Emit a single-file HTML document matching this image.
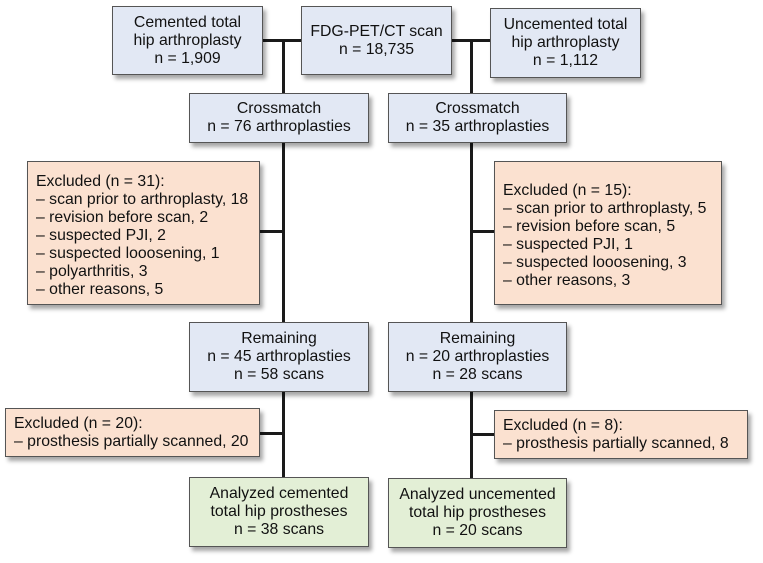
<!DOCTYPE html>
<html><head><style>
body{margin:0;width:763px;height:563px;background:#fff;position:relative;font-family:"Liberation Sans",Arial,sans-serif;font-size:15.8px;color:#111;overflow:hidden}
.b{position:absolute;box-sizing:border-box;border:1.5px solid #555;box-shadow:3px 4px 4px rgba(0,0,0,0.35);display:flex;flex-direction:column;justify-content:center;text-align:center;line-height:18px;white-space:nowrap}
.bl{background:#e2e8f4}.or{background:#fbe1d0;text-align:left;padding-left:8px;justify-content:flex-start}
.gr{background:#e3efd6}
.l{position:absolute;background:#1a1a1a}
</style></head><body>
<div class="l" style="left:263px;top:39px;width:38px;height:3px"></div>
<div class="l" style="left:452px;top:39px;width:38px;height:3px"></div>
<div class="l" style="left:282px;top:40px;width:3px;height:440px"></div>
<div class="l" style="left:470px;top:40px;width:3px;height:440px"></div>
<div class="l" style="left:258px;top:230px;width:26px;height:3px"></div>
<div class="l" style="left:471px;top:230px;width:25px;height:3px"></div>
<div class="l" style="left:258px;top:432px;width:26px;height:3px"></div>
<div class="l" style="left:471px;top:433px;width:25px;height:3px"></div>

<div class="b bl" style="left:112px;top:6px;width:151px;height:69px">Cemented total<br>hip arthroplasty<br>n = 1,909</div>
<div class="b bl" style="left:301px;top:6px;width:151px;height:69px">FDG-PET/CT scan<br>n = 18,735</div>
<div class="b bl" style="left:490px;top:8px;width:151px;height:70px">Uncemented total<br>hip arthroplasty<br>n = 1,112</div>

<div class="b bl" style="left:189px;top:93px;width:180px;height:50px">Crossmatch<br>n = 76 arthroplasties</div>
<div class="b bl" style="left:388px;top:93px;width:179px;height:50px">Crossmatch<br>n = 35 arthroplasties</div>

<div class="b or" style="left:27px;top:161px;width:233px;height:144px;padding-top:11px">Excluded (n = 31):<br>– scan prior to arthroplasty, 18<br>– revision before scan, 2<br>– suspected PJI, 2<br>– suspected looosening, 1<br>– polyarthritis, 3<br>– other reasons, 5</div>
<div class="b or" style="left:494px;top:161px;width:228px;height:144px;padding-top:20px">Excluded (n = 15):<br>– scan prior to arthroplasty, 5<br>– revision before scan, 5<br>– suspected PJI, 1<br>– suspected looosening, 3<br>– other reasons, 3</div>

<div class="b bl" style="left:189px;top:322px;width:180px;height:70px">Remaining<br>n = 45 arthroplasties<br>n = 58 scans</div>
<div class="b bl" style="left:388px;top:322px;width:179px;height:70px">Remaining<br>n = 20 arthroplasties<br>n = 28 scans</div>

<div class="b or" style="left:5px;top:408px;width:255px;height:49px;justify-content:center">Excluded (n = 20):<br>– prosthesis partially scanned, 20</div>
<div class="b or" style="left:494px;top:410px;width:254px;height:49px;justify-content:center">Excluded (n = 8):<br>– prosthesis partially scanned, 8</div>

<div class="b gr" style="left:189px;top:477px;width:180px;height:70px">Analyzed cemented<br>total hip prostheses<br>n = 38 scans</div>
<div class="b gr" style="left:388px;top:478px;width:179px;height:70px">Analyzed uncemented<br>total hip prostheses<br>n = 20 scans</div>
</body></html>
